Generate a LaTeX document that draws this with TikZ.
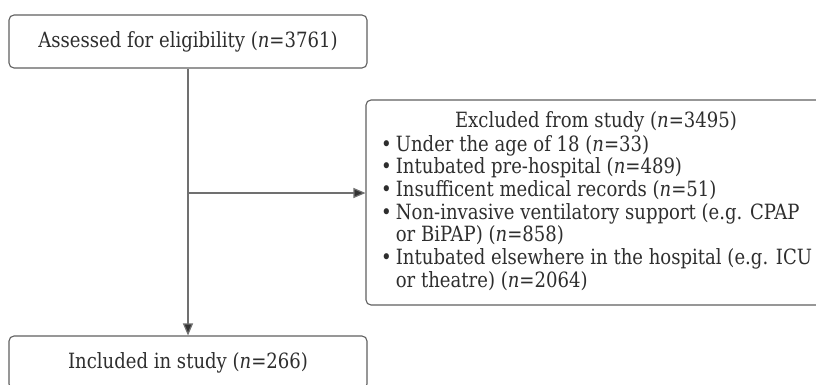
\documentclass[tikz,border=0pt]{standalone}
\usepackage{fontspec}
\setmainfont{DejaVu Serif}[FakeStretch=0.86]
\usetikzlibrary{arrows.meta}
\definecolor{boxline}{HTML}{606060}
\definecolor{connline}{HTML}{707070}
\definecolor{txt}{HTML}{2E2E2E}
\newcommand{\bulmark}{\textbullet\hspace{4pt}}
\tikzset{
  flowbox/.style={draw=boxline, line width=1.1pt, rounded corners=5pt, text=txt,
    inner sep=0pt, font=\fontsize{21}{22.7}\selectfont},
  conn/.style={draw=connline, line width=1.2pt, -{Triangle[length=12pt,width=10pt,fill=black!80]}},
  plain/.style={text=txt, inner sep=0pt, font=\fontsize{21}{22.7}\selectfont}
}
\begin{document}
\begin{tikzpicture}[x=1pt,y=-1pt]
\path[use as bounding box, fill=white] (0,0) rectangle (816,385);
\node[flowbox, minimum width=358pt, minimum height=53pt] (assess) at (188,41.5) {Assessed for eligibility (\textit{n}=3761)};
\node[flowbox, minimum width=358pt, minimum height=53pt] (incl) at (188,362.5) {Included in study (\textit{n}=266)};
\node[flowbox, minimum width=460pt, minimum height=205pt] (excl) at (596,202.5) {};
\node[plain] (excltitle) at (596,122) {Excluded from study (\textit{n}=3495)};
\node[plain, anchor=north west, align=left] (excllist) at (381,135) {%
\bulmark Under the age of 18 (\textit{n}=33)\\
\bulmark Intubated pre-hospital (\textit{n}=489)\\
\bulmark Insufficent medical records (\textit{n}=51)\\
\bulmark Non-invasive ventilatory support (e.g. CPAP\\
\phantom{\bulmark}or BiPAP) (\textit{n}=858)\\
\bulmark Intubated elsewhere in the hospital (e.g. ICU\\
\phantom{\bulmark}or theatre) (\textit{n}=2064)};
\coordinate (branch) at (188,193);
\draw[conn] (assess.south) -- (incl.north);
\draw[conn] (branch) -- (branch -| excl.west);
\end{tikzpicture}
\end{document}
